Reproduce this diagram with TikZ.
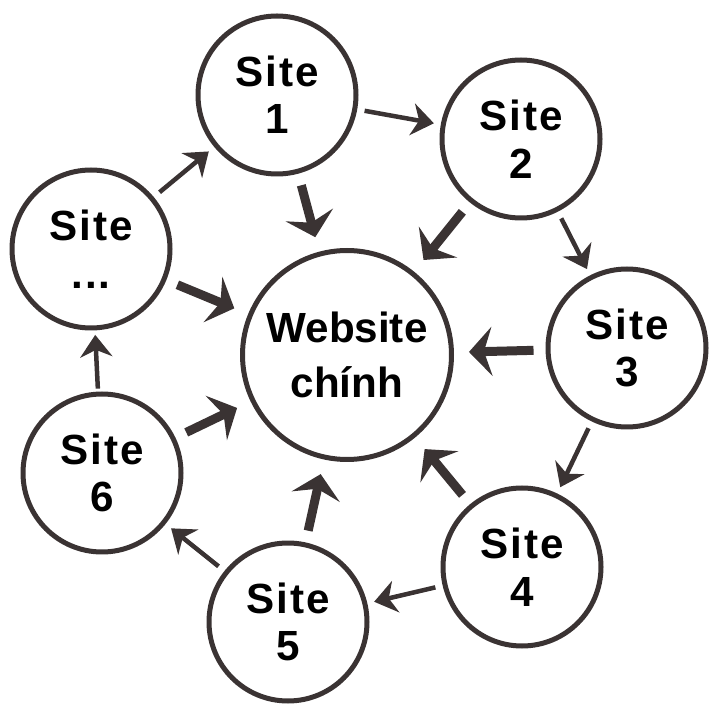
\documentclass[tikz,border=0pt]{standalone}
\usepackage{fontspec}
\setmainfont{Liberation Sans}
\usetikzlibrary{arrows.meta}
\definecolor{linegray}{RGB}{58,51,51}
\begin{document}
\begin{tikzpicture}[->,line join=bevel,draw=linegray]
  \tikzstyle{site}=[circle,draw=linegray,line width=0.1cm,minimum size=3.16cm,inner sep=0pt,align=center,font=\fontsize{24}{27}\selectfont\bfseries\addfontfeature{LetterSpace=5}]
  \tikzstyle{ring}=[-{Stealth[length=0.44cm,width=0.64cm,inset=0.14cm]},line width=0.09cm,shorten <=0.15cm,shorten >=0.14cm]
  \tikzstyle{feed}=[-{Stealth[length=0.46cm,width=0.98cm,inset=0.16cm]},line width=0.18cm,shorten <=0.24cm,shorten >=0.3cm]
  \useasboundingbox (0,0) rectangle (14.4,14.34);
  \node[site] (S_1) at (5.54,12.44) {Site\\1};
  \node[site] (S_2) at (10.42,11.56) {Site\\2};
  \node[site] (S_3) at (12.54,7.38) {Site\\3};
  \node[site] (S_4) at (10.44,3.00) {Site\\4};
  \node[site] (S_5) at (5.76,1.90) {Site\\5};
  \node[site] (S_6) at (2.04,4.88) {Site\\6};
  \node[site] (S_n) at (1.82,9.36) {Site\\...};
  \node[site,minimum size=4.18cm,font=\fontsize{24}{31}\selectfont\bfseries] (W_0) at (6.94,7.24) {Website\\chính};
  % vong ngoai
  \path (S_1) edge[ring] (S_2)
        (S_2) edge[ring] (S_3)
        (S_3) edge[ring] (S_4)
        (S_4) edge[ring] (S_5)
        (S_5) edge[ring] (S_6)
        (S_6) edge[ring,shorten <=0.06cm,shorten >=0.09cm] (S_n)
        (S_n) edge[ring] (S_1);
  % vao website chinh
  \path (S_1) edge[feed] (W_0)
        (S_2) edge[feed] (W_0)
        (S_3) edge[feed] (W_0)
        (S_4) edge[feed] (W_0)
        (S_5) edge[feed] (W_0)
        (S_6) edge[feed] (W_0)
        (S_n) edge[feed] (W_0);
\end{tikzpicture}
\end{document}
